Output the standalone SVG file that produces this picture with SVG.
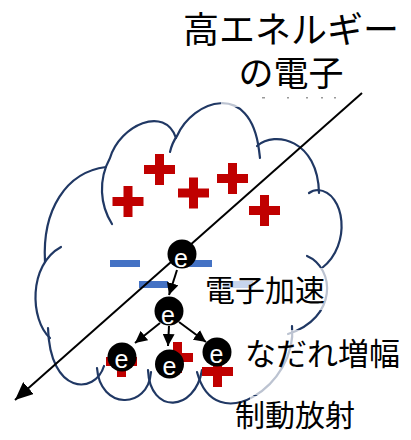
<svg xmlns="http://www.w3.org/2000/svg" width="411" height="440" viewBox="0 0 411 440">
  <style>
    .lobe { fill: none; stroke: #203864; stroke-width: 2.2; stroke-linecap: round; }
    .plus { fill: #C00000; }
    .minus { fill: #4472C4; }
    .veil { fill: #ffffff; fill-opacity: 0.7; }
    .label { font-family: 'Noto Sans CJK JP', 'Noto Sans CJK SC', sans-serif; fill: #000; }
    .ball { fill: #000; }
    .etxt { font-family: 'Liberation Sans', Arial, sans-serif; font-size: 25px; fill: #fff; text-anchor: middle; }
    .wire { stroke: #000; stroke-width: 2; fill: none; }
    .dot { fill: #9a9a9a; }
  </style>
  <defs>
    <path id="plusShape" d="M-15.5,-4.5h31v9h-31z M-4.5,-15.5h9v31h-9z"/>
    <marker id="headSmall" viewBox="0 0 12 12" refX="12" refY="6" markerWidth="12" markerHeight="12" markerUnits="userSpaceOnUse" orient="auto">
      <path d="M0,0 L12,6 L0,12 z" fill="#000"/>
    </marker>
    <marker id="headBig" viewBox="0 0 18 16" refX="18" refY="8" markerWidth="18" markerHeight="16" markerUnits="userSpaceOnUse" orient="auto">
      <path d="M0,0 L18,8 L0,16 z" fill="#000"/>
    </marker>
  </defs>

  <!-- thundercloud outline, one arc per lobe -->
  <g id="cloud">
    <path class="lobe" d="M45,262 C42,210 66,172 106,167"/>
    <path class="lobe" d="M112,224 C100,205 98,180 110,158 C120,125 165,105 176,138"/>
    <path class="lobe" d="M170,152 Q172,143 177,136 C193,100 250,80 259,150 L260,158"/>
    <path class="lobe" d="M257,146 C275,130 318,140 319,193"/>
    <path class="lobe" d="M309,193 Q313,190 318,190 C345,192 352,245 322,268"/>
    <path class="lobe" d="M307,256 C335,268 338,318 288,334"/>
    <path class="lobe" d="M292,326 C298,385 215,440 197,372"/>
    <path class="lobe" d="M202,370 C195,412 150,415 148,370"/>
    <path class="lobe" d="M151,372 C148,410 100,410 97,368"/>
    <path class="lobe" d="M104,366 C95,395 50,395 48,328"/>
    <path class="lobe" d="M50,338 C30,320 28,265 61,247"/>
  </g>

  <!-- positive charges in the upper cloud -->
  <g id="positive-charges">
    <use href="#plusShape" class="plus" x="128" y="201.5"/>
    <use href="#plusShape" class="plus" x="159.5" y="169.5"/>
    <use href="#plusShape" class="plus" x="193.5" y="193"/>
    <use href="#plusShape" class="plus" x="232.5" y="178.5"/>
    <use href="#plusShape" class="plus" x="264.5" y="210.5"/>
  </g>

  <!-- negative charges -->
  <g id="negative-charges">
    <rect class="minus" x="110" y="260" width="30" height="7"/>
    <rect class="minus" x="182" y="260" width="30" height="7"/>
    <rect class="minus" x="139" y="281" width="29" height="7"/>
    <rect class="minus" x="223" y="281" width="30" height="7"/>
  </g>

  <!-- positive ions hit in the avalanche -->
  <g id="ions">
    <use href="#plusShape" class="plus" x="121.5" y="361.5"/>
    <use href="#plusShape" class="plus" x="177.5" y="357.5"/>
    <use href="#plusShape" class="plus" x="217.5" y="371.5"/>
  </g>

  <!-- translucent text boxes -->
  <g id="text-boxes">
    <rect class="veil" x="221" y="92" width="180" height="15"/>
    <rect class="veil" x="200" y="268" width="135" height="42"/>
    <rect class="veil" x="243" y="330" width="165" height="65"/>
    <rect class="veil" x="250" y="396" width="112" height="38"/>
    <rect class="dot" x="262" y="97" width="3" height="1.5"/>
    <rect class="dot" x="287" y="97" width="2" height="1.5"/>
    <rect class="dot" x="306" y="97" width="2" height="1.5"/>
    <rect class="dot" x="321" y="97" width="2" height="1.5"/>
    <rect class="dot" x="334" y="97" width="2" height="1.5"/>
  </g>

  <g id="connectors">
    <line class="wire" x1="362" y1="93" x2="15" y2="400" marker-end="url(#headBig)"/>
    <line class="wire" x1="177" y1="270" x2="169" y2="295" marker-end="url(#headSmall)"/>
    <line class="wire" x1="160" y1="323" x2="135" y2="343" marker-end="url(#headSmall)"/>
    <line class="wire" x1="169" y1="326" x2="168" y2="346" marker-end="url(#headSmall)"/>
    <line class="wire" x1="179" y1="322" x2="206" y2="342" marker-end="url(#headSmall)"/>
  </g>

  <g id="electron-1">
    <circle class="ball" cx="182" cy="254" r="14.5"/>
    <text class="etxt" x="181" y="267">e</text>
  </g>
  <g id="electron-2">
    <circle class="ball" cx="169" cy="311" r="14.5"/>
    <text class="etxt" x="168" y="324">e</text>
  </g>
  <g id="electron-3">
    <circle class="ball" cx="122" cy="357" r="14.5"/>
    <text class="etxt" x="121.5" y="368">e</text>
  </g>
  <g id="electron-4">
    <circle class="ball" cx="169.5" cy="364" r="14.5"/>
    <text class="etxt" x="169.5" y="375">e</text>
  </g>
  <g id="electron-5">
    <circle class="ball" cx="217" cy="352" r="14.5"/>
    <text class="etxt" x="216.5" y="363">e</text>
  </g>

  <g id="label-incoming">
    <text class="label" font-size="36" text-anchor="middle"><tspan x="291" y="43">高エネルギー</tspan><tspan x="291" y="86" font-size="35">の電子</tspan></text>
  </g>
  <g id="label-acceleration">
    <text class="label" x="205" y="301" font-size="30">電子加速</text>
  </g>
  <g id="label-avalanche">
    <text class="label" x="245" y="365" font-size="31">なだれ増幅</text>
  </g>
  <g id="label-bremsstrahlung">
    <text class="label" x="235" y="426" font-size="30">制動放射</text>
  </g>
</svg>
